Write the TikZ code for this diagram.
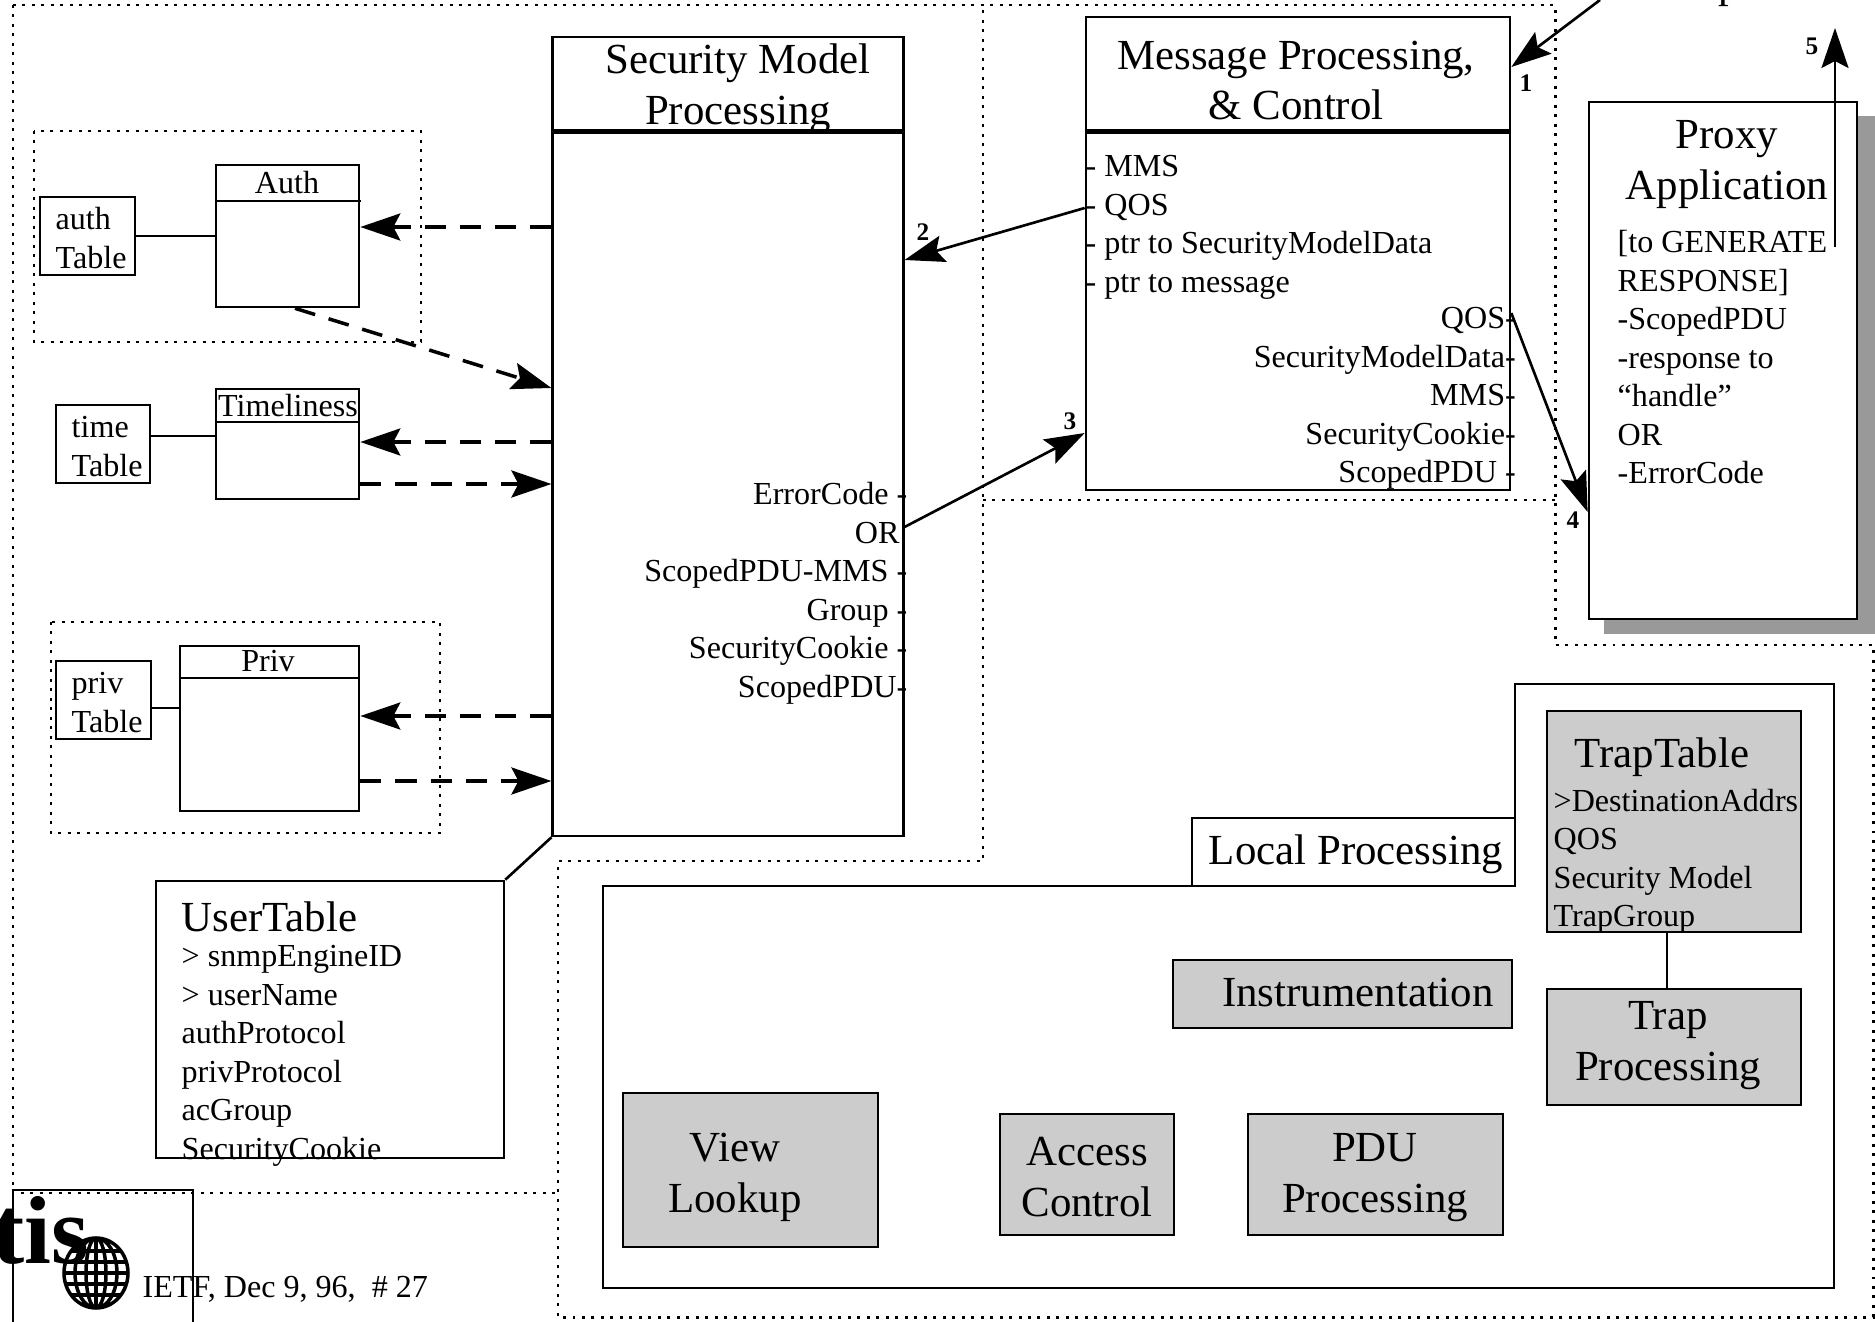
\documentclass[tikz,border=0pt]{standalone}
\usepackage{xcolor}
\usepackage{fontspec}
\usepackage{tikz}
\usetikzlibrary{calc}
\usetikzlibrary{arrows.meta}
\usetikzlibrary{shapes}
\setmainfont{Liberation Serif}
\definecolor{panelgrey}{HTML}{CCCCCC}
\definecolor{shadowgrey}{HTML}{999999}
\newcommand{\bigtext}{\fontsize{12.2}{14.5}\selectfont}
\newcommand{\smalltext}{\fontsize{9.13}{10.95}\selectfont}
\tikzset{>={Stealth[length=4mm, width=2.7mm, inset=.7mm]}}
\tikzstyle{box} = [rectangle, draw = black, line width = .75pt, inner sep = 0pt]
\tikzstyle{whitebox} = [box, fill = white]
\tikzstyle{greybox} = [box, fill = panelgrey]
\tikzstyle{title} = [inner sep = 0pt, align = center, font = \bigtext]
\tikzstyle{small} = [inner sep = 0pt, align = left, font = \smalltext]
\tikzstyle{step number} = [inner sep = 0pt, font = \fontsize{7.2}{8}\selectfont\bfseries]
\tikzstyle{zone} = [line width = .85pt, dash pattern = on .85pt off 1.85pt]
\tikzstyle{plain} = [line width = .75pt]
\tikzstyle{solidarrow} = [->, line width = .75pt]
\tikzstyle{dasharrow} = [->, line width = 1pt, dash pattern = on 6pt off 4pt]

\begin{document}
\begin{tikzpicture}
\useasboundingbox (0, 0) rectangle (18.75, -13.22);

\draw [zone] (.13, -.05) -- (15.55, -.05) -- (15.55, -6.45) -- (18.73, -6.45) -- (18.73, -13.17) -- (5.58, -13.17) -- (5.58, -8.61) -- (9.83, -8.61) -- (9.83, -.05);
\draw [zone] (9.83, -5.00) -- (15.55, -5.00);
\draw [zone] (.13, -.05) -- (.13, -11.93) -- (5.58, -11.93);
\draw [zone] (.34, -1.31) rectangle (4.21, -3.42);
\draw [zone] (.51, -6.22) rectangle (4.40, -8.33);

\node [box, minimum width = 3.505cm, minimum height = 7.99cm] (sec) at (7.28, -4.365) {};
\node [title] (sectitle) at (7.38, -.89) {Security Model\\Processing};
\node [small, align = right, anchor = north east] (secout) at (9.08, -4.82) {ErrorCode -\\OR\kern2.2pt\\ScopedPDU-MMS -\\Group -\\SecurityCookie -\\ScopedPDU-};

\node [box, minimum width = 4.24cm, minimum height = 4.73cm] (msg) at (12.98, -2.535) {};
\node [title] (msgtitle) at (12.96, -.805) {Message Processing,\\\& Control};
\node [small, anchor = north west] (msgin) at (10.85, -1.547) {- MMS\\- QOS\\- ptr to SecurityModelData\\- ptr to message};
\node [small, align = right, anchor = north east] (msgout) at (15.165, -3.067) {QOS-\\SecurityModelData-\\MMS-\\SecurityCookie-\\ScopedPDU -};

\node [fill = shadowgrey, inner sep = 0pt, minimum width = 2.71cm, minimum height = 5.18cm] (proxyshadow) at (17.395, -3.75) {};
\node [whitebox, minimum width = 2.68cm, minimum height = 5.17cm] (proxy) at (17.23, -3.605) {};
\node [title] (proxytitle) at (17.27, -1.65) {Proxy\\Application};
\node [small, anchor = north west] (proxytext) at (16.17, -2.30) {[to GENERATE\\RESPONSE]\\-ScopedPDU\\-response to\\“handle”\\OR\\-ErrorCode};

\node [box, minimum width = .95cm, minimum height = .78cm] (authtab) at (.875, -2.36) {};
\node [small, anchor = north west] (authtext) at (.55, -2.07) {auth\\Table};
\node [box, minimum width = 1.43cm, minimum height = 1.42cm] (authbox) at (2.875, -2.36) {};
\node [small] (authname) at (2.87, -1.83) {Auth};
\node [box, minimum width = .94cm, minimum height = .78cm] (timetab) at (1.03, -4.44) {};
\node [small, anchor = north west] (timetext) at (.71, -4.16) {time\\Table};
\node [box, minimum width = 1.43cm, minimum height = 1.10cm] (timebox) at (2.875, -4.44) {};
\node [small] (timename) at (2.88, -4.06) {Timeliness};
\node [box, minimum width = .95cm, minimum height = .78cm] (privtab) at (1.035, -7.00) {};
\node [small, anchor = north west] (privtext) at (.71, -6.72) {priv\\Table};
\node [box, minimum width = 1.79cm, minimum height = 1.65cm] (privbox) at (2.695, -7.285) {};
\node [small] (privname) at (2.68, -6.61) {Priv};

\node [box, minimum width = 3.48cm, minimum height = 2.77cm] (usertab) at (3.30, -10.195) {};
\node [title, anchor = west] (usertitle) at (1.81, -9.17) {UserTable};
\node [small, anchor = north west] (usertext) at (1.81, -9.45) {> snmpEngineID\\> userName\\authProtocol\\privProtocol\\acGroup\\SecurityCookie};

\draw [plain] (6.03, -8.86) -- (6.03, -12.88) -- (18.34, -12.88) -- (18.34, -6.84) -- (15.15, -6.84) -- (15.15, -8.86) -- cycle;
\draw [plain] (11.92, -8.86) -- (11.92, -8.18) -- (15.15, -8.18);
\node [title] (localtitle) at (13.56, -8.54) {Local Processing};

\node [greybox, minimum width = 2.54cm, minimum height = 2.21cm] (traptab) at (16.74, -8.215) {};
\node [title] (traptitle) at (16.62, -7.57) {TrapTable};
\node [small, anchor = north west] (traptext) at (15.53, -7.885) {>DestinationAddrs\\QOS\\Security Model\\TrapGroup};
\node [greybox, minimum width = 2.54cm, minimum height = 1.16cm] (trapproc) at (16.74, -10.47) {};
\node [title] (trapname) at (16.68, -10.46) {Trap\\Processing};
\node [greybox, minimum width = 3.39cm, minimum height = .68cm] (instr) at (13.425, -9.94) {};
\node [title] (instrname) at (13.58, -9.93) {Instrumentation};
\node [greybox, minimum width = 2.55cm, minimum height = 1.54cm] (view) at (7.505, -11.70) {};
\node [title] (viewname) at (7.35, -11.77) {View\\Lookup};
\node [greybox, minimum width = 1.74cm, minimum height = 1.21cm] (access) at (10.87, -11.745) {};
\node [title] (accessname) at (10.87, -11.77) {Access\\Control};
\node [greybox, minimum width = 2.55cm, minimum height = 1.21cm] (pdu) at (13.755, -11.745) {};
\node [title] (pduname) at (13.75, -11.78) {PDU\\Processing};

\node [box, minimum width = 1.80cm, minimum height = 1.50cm] (logo) at (1.03, -12.65) {};
\node [inner sep = 0pt, anchor = base west, font = \fontsize{27.5}{28}\selectfont\bfseries] (tis) at (-.08, -12.63) {tis};
\draw [line width = 1pt] (.96, -12.73) ellipse (.32 and .35) ellipse (.21 and .35) ellipse (.1 and .35);
\draw [line width = 1pt] (.64, -12.73) -- (1.28, -12.73) (.656, -12.62) -- (1.264, -12.62) (.656, -12.84) -- (1.264, -12.84) (.711, -12.51) -- (1.209, -12.51) (.711, -12.95) -- (1.209, -12.95) (.96, -12.38) -- (.96, -13.08);
\node [small, anchor = base west] (footer) at (1.42, -12.97) {IETF, Dec 9, 96,\ \ \# 27};

\node [title, anchor = base west] (transport) at (16.22, .02) {Transport};
\coordinate (fromtransport) at (16.00, 0);
\coordinate (totransport) at (18.35, -.28);

\draw [line width = 1.4pt] (sec.west |- 0, -1.315) -- (sec.east |- 0, -1.315);
\draw [line width = 1.4pt] (msg.west |- 0, -1.315) -- (msg.east |- 0, -1.315);
\draw [plain] (authbox.west |- 0, -2.01) -- (3.61, -2.01);
\draw [plain] (timebox.west |- 0, -4.22) -- (timebox.east |- 0, -4.22);
\draw [plain] (privbox.west |- 0, -6.78) -- (privbox.east |- 0, -6.78);
\draw [plain] (authtab.east) -- (authbox.west);
\draw [plain] (timetab.east |- 0, -4.36) -- (timebox.west |- 0, -4.36);
\draw [plain] (privtab.east |- 0, -7.08) -- (privbox.west |- 0, -7.08);
\draw [plain] (usertab.north east) -- (sec.south west);
\draw [plain] (traptab.south -| 16.67, 0) -- (trapproc.north -| 16.67, 0);

\draw [dasharrow] (sec.west |- 0, -2.27) -- (authbox.east |- 0, -2.27);
\draw [dasharrow] (authbox.south -| 2.95, 0) -- (sec.west |- 0, -3.88);
\draw [dasharrow] (sec.west |- 0, -4.42) -- (timebox.east |- 0, -4.42);
\draw [dasharrow] (timebox.east |- 0, -4.84) -- (sec.west |- 0, -4.84);
\draw [dasharrow] (sec.west |- 0, -7.16) -- (privbox.east |- 0, -7.16);
\draw [dasharrow] (privbox.east |- 0, -7.81) -- (sec.west |- 0, -7.81);

\draw [solidarrow] (fromtransport) -- (msg.east |- 0, -.67);
\draw [solidarrow] (msg.west |- 0, -2.08) -- (sec.east |- 0, -2.60);
\draw [solidarrow] (sec.east |- 0, -5.27) -- (msg.west |- 0, -4.33);
\draw [solidarrow] (msg.east |- 0, -3.13) -- (proxy.west |- 0, -5.12);
\draw [solidarrow] (proxy.north -| 18.35, 0) ++(0, -1.46) -- (totransport);

\node [step number] (num1) at (15.26, -.83) {1};
\node [step number] (num2) at (9.23, -2.32) {2};
\node [step number] (num3) at (10.70, -4.21) {3};
\node [step number] (num4) at (15.73, -5.20) {4};
\node [step number] (num5) at (18.12, -.46) {5};
\end{tikzpicture}
\end{document}
